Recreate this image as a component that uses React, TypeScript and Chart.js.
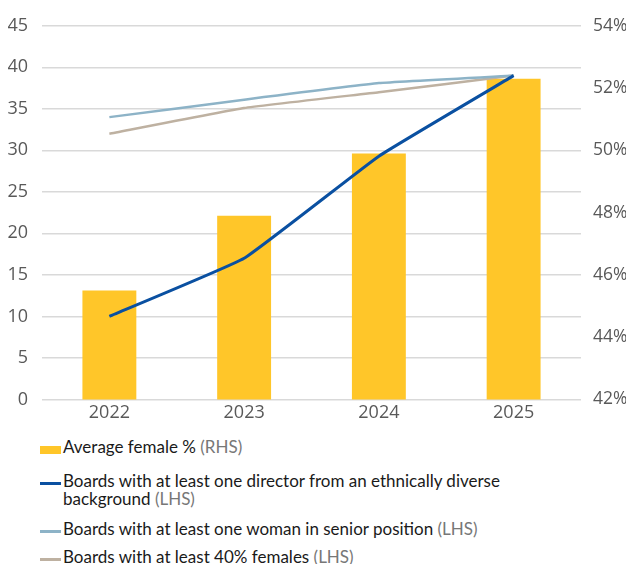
import React, { useEffect, useRef } from "react";
import { Chart, registerables } from "chart.js";

Chart.register(...registerables);

const categories = ["2022", "2023", "2024", "2025"];
const avgFemalePct = [45.5, 47.9, 49.9, 52.3];
const ethnicDiverse = [10, 17, 29.3, 39];
const seniorWoman = [34, 36.1, 38.1, 39];
const fortyPctFemales = [32, 35.1, 37, 39];

const leftTicks = { min: 0, max: 45, step: 5 };
const rightTicks = { min: 42, max: 54, step: 2 };

const TICK_FONT = "'Open Sans', 'Noto Sans', sans-serif";
const LEGEND_FONT = "Lato, 'Noto Sans', sans-serif";

const legendItems = [
  { label: "Average female %", side: "(RHS)", color: "#FFC629", kind: "bar" },
  { label: "Boards with at least one director from an ethnically diverse background", side: "(LHS)", color: "#0A50A1", kind: "line" },
  { label: "Boards with at least one woman in senior position", side: "(LHS)", color: "#8DB3C7", kind: "line" },
  { label: "Boards with at least 40% females", side: "(LHS)", color: "#BEB1A1", kind: "line" },
];

export default function App() {
  const ref = useRef<HTMLCanvasElement>(null);

  useEffect(() => {
    document.documentElement.style.overflow = "hidden";
    document.body.style.overflow = "hidden";
    if (!ref.current) return;
    const chart = new Chart(ref.current, {
      type: "bar",
      data: {
        labels: categories,
        datasets: [
          {
            type: "bar",
            label: legendItems[0].label,
            data: avgFemalePct,
            backgroundColor: legendItems[0].color,
            yAxisID: "y1",
            barPercentage: 0.5,
            categoryPercentage: 0.8,
            order: 3,
          },
          {
            type: "line",
            label: legendItems[1].label,
            data: ethnicDiverse,
            borderColor: legendItems[1].color,
            backgroundColor: legendItems[1].color,
            borderWidth: 3,
            pointRadius: 0,
            tension: 0.1,
            yAxisID: "y",
            order: 1,
          },
          {
            type: "line",
            label: legendItems[2].label,
            data: seniorWoman,
            borderColor: legendItems[2].color,
            backgroundColor: legendItems[2].color,
            borderWidth: 2.5,
            pointRadius: 0,
            tension: 0.1,
            yAxisID: "y",
            order: 2,
          },
          {
            type: "line",
            label: legendItems[3].label,
            data: fortyPctFemales,
            borderColor: legendItems[3].color,
            backgroundColor: legendItems[3].color,
            borderWidth: 2.5,
            pointRadius: 0,
            tension: 0.1,
            yAxisID: "y",
            order: 2,
          },
        ],
      },
      options: {
        animation: false,
        responsive: false,
        layout: { padding: 0 },
        plugins: { legend: { display: false }, tooltip: { enabled: false } },
        scales: {
          x: {
            grid: { display: false, drawTicks: false },
            border: { display: false },
            ticks: { color: "#595959", font: { family: TICK_FONT, size: 18 }, padding: 3 },
          },
          y: {
            position: "left",
            min: leftTicks.min,
            max: leftTicks.max,
            ticks: { stepSize: leftTicks.step, color: "#595959", font: { family: TICK_FONT, size: 18 }, padding: 14 },
            grid: { color: "#D9D9D9", lineWidth: 1.5, drawTicks: false },
            border: { display: false },
            afterFit: (s: any) => { s.width = 42; },
          },
          y1: {
            position: "right",
            min: rightTicks.min,
            max: rightTicks.max,
            ticks: {
              stepSize: rightTicks.step,
              color: "#595959",
              font: { family: TICK_FONT, size: 17.5 },
              padding: 12,
              callback: (v: any) => v + "%",
            },
            grid: { display: false, drawTicks: false },
            border: { display: false },
            afterFit: (s: any) => { s.width = 53; },
          },
        },
      },
    });
    return () => chart.destroy();
  }, []);

  return (
    <div style={{ width: 634, height: 556, margin: "0 -8px", overflow: "hidden" }}>
      <canvas ref={ref} width={634} height={426} style={{ display: "block", marginTop: -7 }} />
      <div style={{ marginTop: 11, paddingLeft: 40, fontFamily: LEGEND_FONT }}>
        {legendItems.map((it, i) => (
          <div key={i} style={{ display: "flex", alignItems: "flex-start", marginBottom: i === 0 ? 16 : i === 1 ? 12 : 10 }}>
            <div style={{ width: 21, height: 18, position: "relative", flex: "none", marginRight: 2 }}>
              <div
                style={{
                  position: "absolute",
                  left: 0,
                  right: 0,
                  top: it.kind === "bar" ? 7.5 : 10,
                  height: it.kind === "bar" ? 8 : 3,
                  background: it.color,
                }}
              />
            </div>
            <div style={{ fontSize: 17, lineHeight: "18px", color: "#1a1a1a", width: 500 }}>
              {it.label} <span style={{ color: "#777" }}>{it.side}</span>
            </div>
          </div>
        ))}
      </div>
    </div>
  );
}
